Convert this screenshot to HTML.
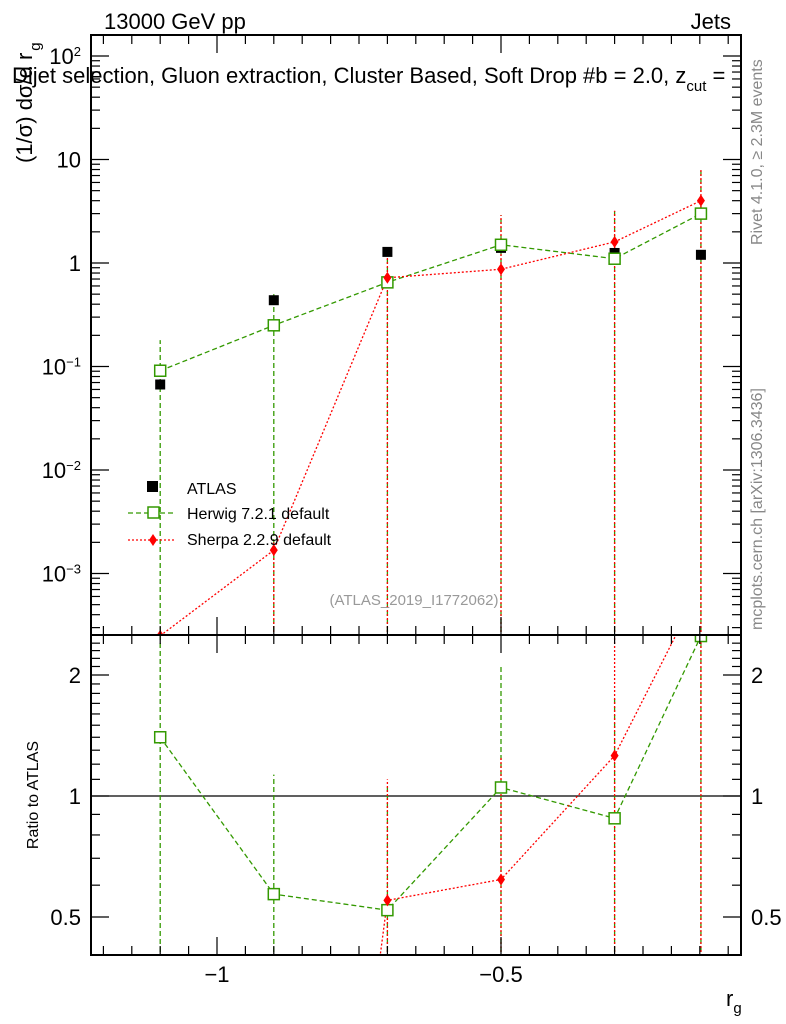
<!DOCTYPE html>
<html><head><meta charset="utf-8"><style>
html,body{margin:0;padding:0;background:#fff;width:786px;height:1024px;overflow:hidden;position:relative}
svg{display:block;font-family:"Liberation Sans",sans-serif}
</style></head><body>
<svg id="c" width="786" height="1024" style="position:absolute;left:0;top:0" xmlns="http://www.w3.org/2000/svg"></svg>
<script>
const xs=[-1.1,-0.9,-0.7,-0.5,-0.3,-0.148];
const atlas=[0.067,0.437,1.28,1.4,1.25,1.2];
const herwig=[0.091,0.25,0.65,1.5,1.1,3.0];
const herwigUp=[0.18,0.5,1.3,2.9,3.2,8];
const sherpa=[0.00025,0.00168,0.72,0.87,1.6,4.0];
const sherpaUp=[0.0003,0.002,1.4,2.9,3.2,8];
const herwigRatio=[1.40,0.57,0.52,1.05,0.88,2.5];
const herwigRatioUp=[5,1.13,1.05,2.1,1.75,5];
const sherpaRatio=[0.0037,0.0038,0.55,0.62,1.26,3.33];
const sherpaRatioUp=[0.0037,0.0038,1.1,1.25,5,5];
const xTicks=[-1,-0.5];
const xTickLabels=["\u22121","\u22120.5"];
const yTicks=[0.001,0.01,0.1,1,10,100];
const yTickLabels=["10<tspan dy='-8' font-size='13'>\u22123</tspan>","10<tspan dy='-8' font-size='13'>\u22122</tspan>","10<tspan dy='-8' font-size='13'>\u22121</tspan>","1","10","10<tspan dy='-8' font-size='13'>2</tspan>"];
const rTicks=[0.5,1,2];

const L=91,R=741,T=35,M=635,B=955;
const X=v=>217+(v+1)*568;
const Y=v=>263-Math.log10(v)*103.5;
const RY=v=>796-Math.log2(v)*121;
const svg=document.getElementById('c');
const NS="http://www.w3.org/2000/svg";
function add(tag,attrs,parent){const e=document.createElementNS(NS,tag);for(const k in attrs)e.setAttribute(k,attrs[k]);(parent||svg).appendChild(e);return e;}
const defs=add('defs',{});
const c1=add('clipPath',{id:'cm'},defs);add('rect',{x:L,y:T,width:R-L,height:M-T},c1);
const c2=add('clipPath',{id:'cr'},defs);add('rect',{x:L,y:M,width:R-L,height:B-M},c2);
const gm=add('g',{'clip-path':'url(#cm)'});


const gr=add('g',{'clip-path':'url(#cr)'});



let l1=add('line',{x1:L,x2:R,y1:RY(1),y2:RY(1),stroke:'#000','stroke-width':1.2},gr);



function series(vals,ups,yf,g,color,dash,name,bottom){
  vals.forEach((v,i)=>{
    if(ups[i]<=v)return;
    const e=add('line',{x1:X(xs[i]),x2:X(xs[i]),y1:bottom+5,y2:Math.max(yf(ups[i]),-100),stroke:color,'stroke-width':1.3,'stroke-dasharray':dash},g);
    
    
  });
  const p=add('polyline',{points:vals.map((v,i)=>X(xs[i])+','+yf(v)).join(' '),fill:'none',stroke:color,'stroke-width':1.3,'stroke-dasharray':dash},g);
  
  
}
function herwigMarks(vals,yf,g,name){
  vals.forEach((v,i)=>{const m=add('rect',{x:X(xs[i])-5.5,y:yf(v)-5.5,width:11,height:11,fill:'#fff',stroke:'#339900','stroke-width':1.5},g);
  
  });
}
function sherpaMarks(vals,yf,g,name){
  vals.forEach((v,i)=>{const x=X(xs[i]),y=yf(v);const m=add('polygon',{points:`${x},${y-6} ${x+4},${y} ${x},${y+6} ${x-4},${y}`,fill:'#f00'},g);
  
  });
}
series(herwig,herwigUp,Y,gm,'#339900','5,3','herwig',M);
series(sherpa,sherpaUp,Y,gm,'#f00','2,2','sherpa',M);
atlas.forEach((v,i)=>{const m=add('rect',{x:X(xs[i])-5,y:Y(v)-5,width:10,height:10,fill:'#000'},gm);

});
herwigMarks(herwig,Y,gm,'herwig-point');
sherpaMarks(sherpa,Y,gm,'sherpa-point');
series(herwigRatio,herwigRatioUp,RY,gr,'#339900','5,3','herwig-ratio',B);
series(sherpaRatio,sherpaRatioUp,RY,gr,'#f00','2,2','sherpa-ratio',B);
herwigMarks(herwigRatio,RY,gr,'herwig-ratio-point');
sherpaMarks(sherpaRatio,RY,gr,'sherpa-ratio-point');

[[T,M],[M,B]].forEach(([a,b],k)=>{const f=add('rect',{x:L,y:a,width:R-L,height:b-a,fill:'none',stroke:'#000','stroke-width':2});

});

for(let v=-1.2;v<=-0.07;v+=0.05){const x=X(v);if(x<L+1||x>R-1)continue;
 const major=Math.abs(v-Math.round(v*2)/2)<1e-6;const len=major?18:9;
 [[T,1],[M,-1],[M,1],[B,-1]].forEach(([y0,d])=>{add('line',{x1:x,x2:x,y1:y0,y2:y0+d*len,stroke:'#000','stroke-width':1.2});});}
xTicks.forEach((v,i)=>{const t=add('text',{x:X(v),y:982,'font-size':22,'text-anchor':'middle'});t.textContent=xTickLabels[i];

});
for(let d=-4;d<=2;d++){for(let k=1;k<10;k++){const y=Y(k*Math.pow(10,d));if(y<T||y>M)continue;const len=k==1?18:9;
 add('line',{x1:L,x2:L+len,y1:y,y2:y,stroke:'#000','stroke-width':1.2});add('line',{x1:R,x2:R-len,y1:y,y2:y,stroke:'#000','stroke-width':1.2});}}
yTicks.forEach((v,i)=>{const t=add('text',{x:81,y:Y(v)+8,'font-size':22,'text-anchor':'end'});t.innerHTML=yTickLabels[i];

});
for(let v=0.4;v<=2.5;v+=0.1){const y=RY(v);if(y<M||y>B)continue;const major=[0.5,1,2].some(q=>Math.abs(q-v)<1e-6);const len=major?18:9;
 add('line',{x1:L,x2:L+len,y1:y,y2:y,stroke:'#000','stroke-width':1.2});add('line',{x1:R,x2:R-len,y1:y,y2:y,stroke:'#000','stroke-width':1.2});}
rTicks.forEach(v=>{[[81,'end'],[751,'start']].forEach(([x,a])=>{const t=add('text',{x:x,y:RY(v)+8,'font-size':22,'text-anchor':a});t.textContent=String(v);

});});
</script>
<svg width="786" height="1024" style="position:absolute;left:0;top:0" xmlns="http://www.w3.org/2000/svg" font-family="Liberation Sans, sans-serif">
<text x="104" y="29" font-size="22">13000 GeV pp</text>
<text x="731" y="29" font-size="22" text-anchor="end">Jets</text>
<text x="12" y="83" font-size="22">Dijet selection, Gluon extraction, Cluster Based, Soft Drop #b = 2.0, z<tspan dy="8" font-size="15">cut</tspan><tspan dy="-8"> =</tspan></text>
<text transform="translate(32,163) rotate(-90)" font-size="22">(1/σ) dσ/d r<tspan dy="8" dx="2" font-size="15">g</tspan></text>
<text transform="translate(38,795) rotate(-90)" font-size="16" text-anchor="middle">Ratio to ATLAS</text>
<text x="726" y="1006" font-size="22">r<tspan dy="7" font-size="15">g</tspan></text>
<text transform="translate(762,245) rotate(-90)" font-size="16" fill="#888">Rivet 4.1.0, ≥ 2.3M events</text>
<text transform="translate(762,630) rotate(-90)" font-size="16" fill="#888">mcplots.cern.ch [arXiv:1306.3436]</text>
<text x="414" y="605" font-size="15" fill="#999" text-anchor="middle">(ATLAS_2019_I1772062)</text>
<g>
<rect x="147" y="481" width="11" height="11" fill="#000"/>
<text x="187" y="494" font-size="16">ATLAS</text>
<line x1="128" x2="175" y1="513" y2="513" stroke="#339900" stroke-width="1.3" stroke-dasharray="5,3"/>
<rect x="148" y="507" width="11" height="11" fill="#fff" stroke="#339900" stroke-width="1.5"/>
<text x="187" y="519" font-size="16">Herwig 7.2.1 default</text>
<line x1="128" x2="175" y1="540" y2="540" stroke="#f00" stroke-width="1.3" stroke-dasharray="2,2"/>
<polygon points="153,534 157,540 153,546 149,540" fill="#f00"/>
<text x="187" y="545" font-size="16">Sherpa 2.2.9 default</text>
</g>
</svg>
</body></html>
